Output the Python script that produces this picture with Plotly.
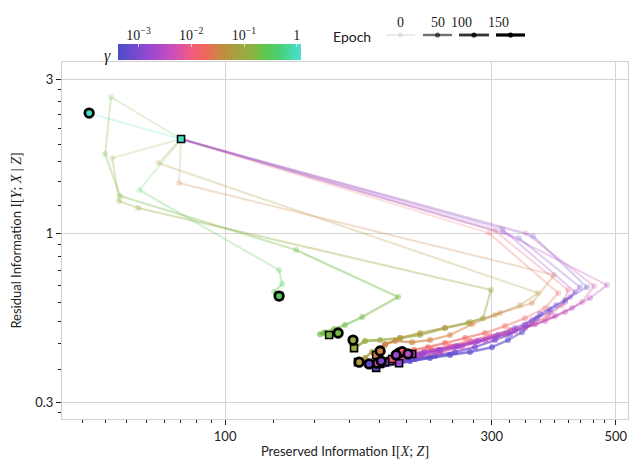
import numpy as np
import plotly.graph_objects as go

# ---------------- data ----------------
epochs = [0, 5, 10, 15, 20, 30, 40, 50, 60, 70, 80, 90, 100, 115, 130, 150]

log_gamma = [0.0, -0.5, -0.75, -1.0, -1.25, -1.5, -1.75, -2.0, -2.25, -2.5, -2.75, -3.0, -3.25]

x_g000 = [83.4, 57.3, 57.2, 57.1, 57.1, 57.1, 57.1, 57.1, 57.1, 57.1, 57.1, 57.1, 57.1, 57.1, 57.1, 57.1]
y_g000 = [1.957, 2.35, 2.35, 2.356, 2.356, 2.356, 2.356, 2.356, 2.356, 2.356, 2.356, 2.356, 2.356, 2.356, 2.356, 2.356]

x_g050 = [83.4, 70.2, 124.9, 126.5, 122.4, 123.9, 124.9, 124.9, 125.0, 124.9, 124.9, 125.0, 124.9, 124.9, 124.9, 124.9]
y_g050 = [1.957, 1.361, 0.769, 0.696, 0.658, 0.648, 0.644, 0.639, 0.640, 0.639, 0.639, 0.640, 0.639, 0.639, 0.639, 0.639]

x_g075 = [83.4, 62.5, 61.0, 64.9, 134.0, 204.0, 175.9, 163.9, 156.7, 151.0, 147.9, 150.4, 153.5, 156.1, 158.0, 159.3]
y_g075 = [1.957, 2.641, 1.759, 1.304, 0.887, 0.635, 0.550, 0.520, 0.505, 0.494, 0.487, 0.491, 0.484, 0.487, 0.491, 0.491]

x_g100 = [83.4, 62.8, 64.6, 69.9, 299.1, 289.4, 272.2, 247.5, 223.3, 205.7, 189.4, 178.0, 170.1, 168.7, 169.4, 169.4]
y_g100 = [1.957, 1.710, 1.258, 1.197, 0.667, 0.546, 0.527, 0.509, 0.484, 0.474, 0.467, 0.464, 0.441, 0.457, 0.464, 0.467]

x_g125 = [83.4, 75.9, 363.1, 337.1, 304.1, 274.4, 247.5, 223.3, 205.7, 193.3, 183.2, 178.0, 174.4, 172.9, 173.7, 173.7]
y_g125 = [1.957, 1.649, 0.653, 0.599, 0.558, 0.531, 0.509, 0.491, 0.474, 0.451, 0.429, 0.411, 0.402, 0.399, 0.399, 0.399]

x_g150 = [83.4, 82.7, 387.9, 354.1, 310.4, 276.7, 252.7, 232.7, 216.1, 201.5, 193.3, 187.8, 186.3, 187.8, 189.4, 189.4]
y_g150 = [1.957, 1.430, 0.742, 0.608, 0.566, 0.523, 0.484, 0.467, 0.460, 0.464, 0.454, 0.435, 0.420, 0.426, 0.429, 0.432]

x_g175 = [83.4, 296.7, 394.4, 373.7, 344.1, 316.9, 291.8, 268.8, 247.5, 230.8, 217.8, 209.0, 204.8, 197.3, 204.0, 204.8]
y_g175 = [1.957, 1.001, 0.653, 0.587, 0.546, 0.516, 0.491, 0.474, 0.457, 0.444, 0.435, 0.429, 0.426, 0.402, 0.423, 0.426]

x_g200 = [83.4, 304.1, 411.0, 401.0, 378.4, 351.3, 323.5, 297.9, 274.4, 252.7, 234.6, 218.8, 207.4, 199.0, 204.0, 207.4]
y_g200 = [1.957, 1.016, 0.667, 0.599, 0.554, 0.523, 0.502, 0.481, 0.464, 0.447, 0.435, 0.423, 0.414, 0.408, 0.423, 0.430]

x_g225 = [83.4, 345.5, 457.3, 435.1, 405.9, 373.7, 344.1, 316.9, 291.8, 265.5, 242.5, 223.3, 205.7, 194.1, 189.4, 187.1]
y_g225 = [1.957, 1.001, 0.686, 0.612, 0.570, 0.535, 0.509, 0.487, 0.467, 0.447, 0.429, 0.417, 0.405, 0.396, 0.394, 0.396]

x_g250 = [83.4, 314.3, 482.5, 449.8, 417.8, 389.5, 358.6, 330.3, 304.1, 280.1, 257.9, 240.5, 227.0, 216.1, 213.4, 212.5]
y_g250 = [1.957, 1.009, 0.691, 0.630, 0.587, 0.554, 0.523, 0.498, 0.477, 0.460, 0.447, 0.435, 0.429, 0.423, 0.423, 0.423]

x_g275 = [83.4, 313.0, 423.0, 405.9, 381.5, 354.1, 330.3, 307.9, 283.5, 261.1, 242.5, 225.2, 212.5, 204.8, 204.0, 202.3]
y_g275 = [1.957, 1.030, 0.658, 0.612, 0.570, 0.539, 0.509, 0.484, 0.464, 0.447, 0.435, 0.423, 0.411, 0.396, 0.411, 0.420]

x_g300 = [83.4, 335.7, 431.6, 414.3, 391.0, 366.1, 344.1, 323.5, 304.1, 280.1, 257.9, 237.6, 218.8, 201.5, 193.3, 190.2]
y_g300 = [1.957, 0.966, 0.681, 0.635, 0.599, 0.562, 0.520, 0.487, 0.467, 0.444, 0.429, 0.417, 0.408, 0.399, 0.399, 0.402]

x_g325 = [83.4, 355.6, 444.3, 405.9, 381.5, 361.6, 340.0, 320.9, 300.4, 274.4, 252.7, 232.7, 214.3, 186.3, 183.2, 181.0]
y_g325 = [1.957, 0.980, 0.681, 0.621, 0.582, 0.546, 0.494, 0.467, 0.444, 0.429, 0.420, 0.411, 0.402, 0.383, 0.389, 0.394]

# index (into epochs) of the square-marked checkpoint for each gamma
square_idx = [0, 12, 12, 12, 13, 12, 13, 13, 14, 13, 13, 14, 13]

xs_all = [x_g000, x_g050, x_g075, x_g100, x_g125, x_g150, x_g175,
          x_g200, x_g225, x_g250, x_g275, x_g300, x_g325]
ys_all = [y_g000, y_g050, y_g075, y_g100, y_g125, y_g150, y_g175,
          y_g200, y_g225, y_g250, y_g275, y_g300, y_g325]

cbar_tickvals = [-3, -2, -1, 0]
cbar_ticktext = ["10<sup>\u22123</sup>", "10<sup>\u22122</sup>", "10<sup>\u22121</sup>", "1"]
legend_epochs = [0, 50, 100, 150]

x_major = [100, 300, 500]
y_major = [0.3, 1, 3]

# ---------------- styling ----------------
CMIN, CMAX = -3.39, 0.08
cscale = [[0.0, '#4c4ccc'], [0.175, '#9848d0'], [0.284, '#c84cc0'], [0.399, '#f05c80'],
          [0.475, '#f0665c'], [0.557, '#c88840'], [0.639, '#a8a040'], [0.721, '#90b040'],
          [0.803, '#5cc84c'], [0.885, '#48d078'], [0.973, '#48dcc0'], [1.0, '#4ee0d8']]


def hex2rgb(h):
    h = h.lstrip('#')
    return [int(h[i:i + 2], 16) for i in (0, 2, 4)]


def cmap(v):
    p = (v - CMIN) / (CMAX - CMIN)
    p = min(1.0, max(0.0, p))
    for (p0, c0), (p1, c1) in zip(cscale[:-1], cscale[1:]):
        if p0 <= p <= p1:
            t = (p - p0) / (p1 - p0) if p1 > p0 else 0
            a, b = hex2rgb(c0), hex2rgb(c1)
            return [round(a[k] + (b[k] - a[k]) * t) for k in range(3)]
    return hex2rgb(cscale[-1][1])


def alpha_of(e):
    return min(1.0, 0.08 + 0.92 * (e / 150) ** 0.6)


def width_of(e):
    return 2.0 + 1.2 * (e / 150)


def rgba(c, a):
    return f'rgba({c[0]},{c[1]},{c[2]},{a:.3f})'


SANS = 'Lato, DejaVu Sans, sans-serif'
SERIF = 'Liberation Serif, DejaVu Serif, serif'

fig = go.Figure()

# trajectories: line segments with increasing opacity
for lg, xs, ys in zip(log_gamma, xs_all, ys_all):
    c = cmap(lg)
    for i in range(len(xs) - 1):
        e = epochs[i + 1]
        fig.add_trace(go.Scatter(
            x=[xs[i], xs[i + 1]], y=[ys[i], ys[i + 1]], mode='lines',
            line=dict(color=rgba(c, alpha_of(e)), width=width_of(e)),
            hoverinfo='skip', showlegend=False))
    fig.add_trace(go.Scatter(
        x=xs, y=ys, mode='markers',
        marker=dict(size=6, color=[rgba(c, alpha_of(e)) for e in epochs], line=dict(width=0)),
        hoverinfo='skip', showlegend=False))

# square checkpoints
for lg, xs, ys, si in zip(log_gamma, xs_all, ys_all, square_idx):
    c = cmap(lg)
    fig.add_trace(go.Scatter(
        x=[xs[si]], y=[ys[si]], mode='markers',
        marker=dict(symbol='square', size=7, color=rgba(c, 1), line=dict(color='black', width=1.6)),
        hoverinfo='skip', showlegend=False))

# final epoch circles
for lg, xs, ys in zip(log_gamma, xs_all, ys_all):
    c = cmap(lg)
    fig.add_trace(go.Scatter(
        x=[xs[-1]], y=[ys[-1]], mode='markers',
        marker=dict(symbol='circle', size=8.5, color=rgba(c, 1), line=dict(color='black', width=2.8)),
        hoverinfo='skip', showlegend=False))

# colour bar as heatmap on its own axes
cb_vals = np.linspace(CMIN, CMAX, 300)
fig.add_trace(go.Heatmap(
    z=[cb_vals], x=cb_vals, y=[0], colorscale=cscale, zmin=CMIN, zmax=CMAX,
    showscale=False, xaxis='x2', yaxis='y2', hoverinfo='skip'))

# ---------------- axes ----------------
x_minor = [100 - k * 50 / 9 for k in range(1, 9)] + \
          [100 + k * 200 / 9 for k in range(1, 9)] + \
          [300 + k * 200 / 9 for k in range(1, 9)]
y_minor = [0.3 - 0.2 / 9] + [0.3 + k * 0.7 / 9 for k in range(1, 9)] + \
          [1 + k * 2 / 9 for k in range(1, 9)]

PT = 419  # pixel bottom of plot; paper mapping helpers for legend
H = 409


def py(ypix):
    return (PT - ypix) / H


def px(xpix):
    return (xpix - 62) / 566


fig.update_layout(
    width=633, height=463,
    margin=dict(l=62, r=5, t=10, b=44, autoexpand=False),
    paper_bgcolor='white', plot_bgcolor='white',
    font=dict(family=SANS, size=13, color='#222'),
    showlegend=False,
    xaxis=dict(
        type='log', range=[np.log10(51.06), np.log10(526)], domain=[0, 1], automargin=False,
        tickmode='array', tickvals=x_major, ticktext=[str(v) for v in x_major],
        ticks='outside', ticklen=5, tickwidth=1.2, tickcolor='#222',
        showgrid=True, gridcolor='#d4d4d4', gridwidth=1,
        showline=True, linecolor='#d0d0d0', linewidth=1.2, mirror=True,
        zeroline=False, tickfont=dict(size=13),
        minor=dict(tickmode='array', tickvals=x_minor, ticks='outside', ticklen=3,
                   tickwidth=1, tickcolor='#222', showgrid=False),
        title=dict(text='Preserved Information <span style="font-family:Liberation Serif;font-size:14px">I[<i>X</i>; <i>Z</i>]</span>',
                   font=dict(size=13), standoff=4),
    ),
    yaxis=dict(
        type='log', range=[np.log10(0.266), np.log10(3.39)], domain=[0, py(62)], automargin=False,
        tickmode='array', tickvals=y_major, ticktext=['0.3', '1', '3'],
        ticks='outside', ticklen=5, tickwidth=1.2, tickcolor='#222',
        showgrid=True, gridcolor='#d4d4d4', gridwidth=1,
        showline=True, linecolor='#d0d0d0', linewidth=1.2, mirror=True,
        zeroline=False, tickfont=dict(size=13),
        minor=dict(tickmode='array', tickvals=y_minor, ticks='outside', ticklen=3,
                   tickwidth=1, tickcolor='#222', showgrid=False),
        title=dict(text='Residual Information <span style="font-family:Liberation Serif;font-size:14px">I[<i>Y</i>; <i>X</i> | <i>Z</i>]</span>',
                   font=dict(size=13), standoff=10),
    ),
    xaxis2=dict(
        domain=[px(118), px(301)], anchor='y2', range=[CMIN, CMAX], side='top', automargin=False,
        tickmode='array', tickvals=cbar_tickvals, ticktext=cbar_ticktext,
        ticks='inside', ticklen=3, tickcolor='rgba(225,225,225,0.9)', tickwidth=1.2,
        showgrid=False, zeroline=False, showline=False,
        tickfont=dict(family=SERIF, size=14, color='#222'),
    ),
    yaxis2=dict(domain=[py(60), py(44)], anchor='x2', range=[-0.5, 0.5], automargin=False,
                showticklabels=False, ticks='', showgrid=False, zeroline=False),
)

# gamma label
fig.add_annotation(x=px(102), y=py(45), xref='paper', yref='paper', text='<i>γ</i>',
                   showarrow=False, font=dict(family=SERIF, size=16, color='#222'))

# epoch legend (keys drawn in paper space)
fig.add_annotation(x=px(352), y=py(26), xref='paper', yref='paper', text='Epoch',
                   showarrow=False, font=dict(family=SANS, size=14, color='#222'))
key_x = [(386, 415), (423, 452), (459, 489), (496, 525)]
for ep, (a, b) in zip(legend_epochs, key_x):
    col = rgba((0, 0, 0), alpha_of(ep))
    fig.add_shape(type='line', xref='paper', yref='paper', x0=px(a), x1=px(b), y0=py(35), y1=py(35),
                  line=dict(color=col, width=width_of(ep)))
    cx = (a + b) / 2
    fig.add_shape(type='circle', xref='paper', yref='paper', x0=px(cx - 2.6), x1=px(cx + 2.6),
                  y0=py(37.6), y1=py(32.4), fillcolor=col, line=dict(width=0))
    fig.add_annotation(x=px(cx), y=py(13), xref='paper', yref='paper', text=str(ep),
                       showarrow=False, font=dict(family=SERIF, size=14, color='#222'))

fig.write_html('out.html', config={'displayModeBar': False},
               post_script="document.body.style.margin='0px';document.body.style.overflow='hidden';")
